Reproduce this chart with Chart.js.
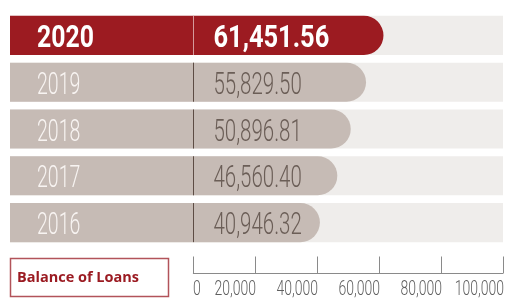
<!DOCTYPE html>
<html>
<head>
<meta charset="utf-8">
<script src="https://cdn.jsdelivr.net/npm/chart.js@4/dist/chart.umd.min.js"></script>
<style>
  body { margin: 0; background: #ffffff; }
  #wrap { width: 507px; height: 298px; position: relative; }
</style>
</head>
<body>
<div id="wrap"><canvas id="chart"></canvas></div>
<script>
const years = ['2020', '2019', '2018', '2017', '2016'];
const loanBalances = [61451.56, 55829.50, 50896.81, 46560.40, 40946.32];
const axisTicks = [0, 20000, 40000, 60000, 80000, 100000];
const trackEnd = 100000;
const legendLabel = 'Balance of Loans';

const axisMin = -59000;

const RED = '#9c1b21';
const GREY = '#c6bbb5';
const TRACK = '#efedeb';

const fmt = (v) => v.toLocaleString('en-US', { minimumFractionDigits: 2, maximumFractionDigits: 2 });

// draws condensed text by squeezing the canvas horizontally
function squeezeText(ctx, text, x, y, font, color, sx, align) {
    ctx.save();
    ctx.font = font;
    ctx.fillStyle = color;
    ctx.textBaseline = 'alphabetic';
    const w = ctx.measureText(text).width * sx;
    let left = x;
    if (align === 'right') left = x - w;
    ctx.translate(left, y);
    ctx.scale(sx, 1);
    ctx.textAlign = 'left';
    ctx.fillText(text, 0, 0);
    ctx.restore();
}

const rowLabels = {
    id: 'rowLabels',
    afterDatasetsDraw(chart) {
        const ctx = chart.ctx;
        const xScale = chart.scales.x;
        const meta = chart.getDatasetMeta(0);
        const zeroX = Math.round(xScale.getPixelForValue(0)) + 0.5;
        meta.data.forEach((bar, i) => {
            const top = bar.y - bar.height / 2;
            const bottom = bar.y + bar.height / 2;
            const first = i === 0;

            ctx.save();
            ctx.strokeStyle = first ? '#d59a9c' : '#5d4c44';
            ctx.lineWidth = 1;
            ctx.beginPath();
            ctx.moveTo(zeroX, top);
            ctx.lineTo(zeroX, bottom);
            ctx.stroke();
            ctx.restore();

            const base = bar.y + 11.5;
            if (first) {
                squeezeText(ctx, years[i], chart.chartArea.left + 27, base, 'bold 31px Roboto, sans-serif', '#ffffff', 0.8);
                squeezeText(ctx, fmt(loanBalances[i]), zeroX + 20, base, 'bold 31px Roboto, sans-serif', '#ffffff', 0.82);
            } else {
                squeezeText(ctx, years[i], chart.chartArea.left + 27, base, '300 31px Roboto, sans-serif', '#f8f4f2', 0.63);
                squeezeText(ctx, fmt(loanBalances[i]), zeroX + 20, base, '300 31px Roboto, sans-serif', '#6b5e57', 0.66);
            }
        });
    },
    afterDraw(chart) {
        const ctx = chart.ctx;
        const xScale = chart.scales.x;
        const axisY = 273.5;

        ctx.save();
        ctx.strokeStyle = '#8a8a8a';
        ctx.lineWidth = 1;
        ctx.beginPath();
        ctx.moveTo(xScale.getPixelForValue(axisTicks[0]), axisY);
        ctx.lineTo(xScale.getPixelForValue(axisTicks[axisTicks.length - 1]), axisY);
        axisTicks.forEach((t) => {
            const px = Math.round(xScale.getPixelForValue(t)) + 0.5;
            ctx.moveTo(px, axisY);
            ctx.lineTo(px, axisY - 17);
        });
        ctx.stroke();
        ctx.restore();

        axisTicks.forEach((t, i) => {
            const px = xScale.getPixelForValue(t);
            const label = t.toLocaleString('en-US');
            if (i === 0) {
                squeezeText(ctx, label, px, 295, '300 20px Roboto, sans-serif', '#5f5f5f', 0.7, 'left');
            } else {
                squeezeText(ctx, label, px + 1, 295, '300 20px Roboto, sans-serif', '#5f5f5f', 0.7, 'right');
            }
        });

        // legend box
        ctx.save();
        ctx.strokeStyle = '#b2535a';
        ctx.lineWidth = 1.5;
        ctx.strokeRect(10.5, 258.5, 158, 38);
        ctx.font = 'bold 15px "Open Sans", sans-serif';
        ctx.fillStyle = '#9b1b22';
        ctx.textBaseline = 'alphabetic';
        const w = ctx.measureText(legendLabel).width;
        ctx.translate(17, 282);
        ctx.scale(122 / w, 1);
        ctx.fillText(legendLabel, 0, 0);
        ctx.restore();
    }
};

new Chart(document.getElementById('chart'), {
    type: 'bar',
    data: {
        labels: years,
        datasets: [
            {
                label: legendLabel,
                data: loanBalances,
                base: axisMin,
                backgroundColor: (context) => context.dataIndex === 0 ? RED : GREY,
                borderWidth: 0,
                borderRadius: 20,
                borderSkipped: 'start',
                grouped: false,
                barPercentage: 0.835,
                categoryPercentage: 1,
            },
            {
                label: 'track',
                data: years.map(() => trackEnd),
                base: axisMin,
                backgroundColor: TRACK,
                borderWidth: 0,
                grouped: false,
                barPercentage: 0.835,
                categoryPercentage: 1,
            }
        ]
    },
    options: {
        indexAxis: 'y',
        responsive: true,
        maintainAspectRatio: false,
        animation: false,
        layout: {
            padding: { left: 10, right: 4, top: 12, bottom: 52 }
        },
        scales: {
            x: {
                min: axisMin,
                max: trackEnd,
                display: false,
                grid: { display: false }
            },
            y: {
                display: false,
                grid: { display: false }
            }
        },
        plugins: {
            legend: { display: false },
            tooltip: { enabled: false }
        }
    },
    plugins: [rowLabels]
});
</script>
</body>
</html>
